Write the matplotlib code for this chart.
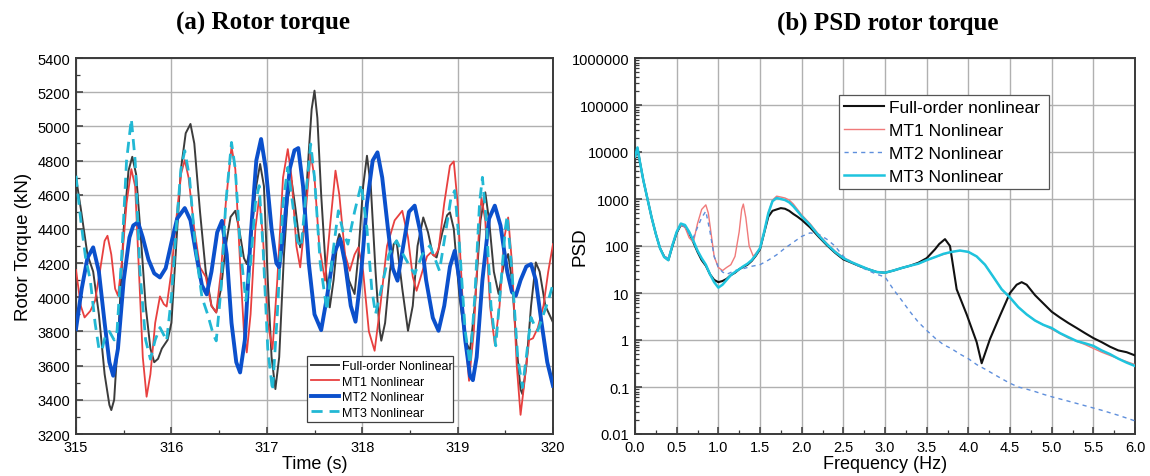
import matplotlib
matplotlib.use("Agg")
import matplotlib.pyplot as plt
from matplotlib.ticker import MultipleLocator, FixedLocator, FixedFormatter, LogLocator, NullFormatter, FormatStrFormatter

plt.rcParams['font.family'] = ['Liberation Sans', 'DejaVu Sans']

# ---------------- (a) Rotor torque: time series (s, kN) ----------------
t_full = [315.00, 315.05, 315.12, 315.18, 315.24, 315.30, 315.35, 315.37, 315.40, 315.45, 315.50, 315.55, 315.59, 315.63,
          315.68, 315.73, 315.78, 315.82, 315.86, 315.90, 315.96, 316.00, 316.05, 316.10, 316.15, 316.20, 316.24, 316.30,
          316.36, 316.42, 316.47, 316.52, 316.57, 316.62, 316.67, 316.71, 316.76, 316.79, 316.83, 316.88, 316.93, 316.97,
          317.01, 317.05, 317.09, 317.13, 317.18, 317.22, 317.26, 317.30, 317.35, 317.39, 317.44, 317.47, 317.50, 317.53,
          317.57, 317.62, 317.66, 317.70, 317.74, 317.76, 317.80, 317.86, 317.92, 317.96, 318.01, 318.05, 318.09, 318.14,
          318.18, 318.20, 318.24, 318.29, 318.33, 318.36, 318.42, 318.48, 318.53, 318.58, 318.64, 318.69, 318.74, 318.78,
          318.84, 318.89, 318.92, 318.96, 319.02, 319.08, 319.13, 319.18, 319.24, 319.29, 319.33, 319.38, 319.43, 319.48,
          319.53, 319.57, 319.62, 319.66, 319.68, 319.72, 319.77, 319.82, 319.86, 319.92, 320.00]
v_full = [4700, 4520, 4250, 4150, 3900, 3550, 3370, 3340, 3400, 3850, 4400, 4740, 4822, 4720,
          4350, 3950, 3700, 3620, 3640, 3700, 3750, 3850, 4300, 4750, 4960, 5014, 4900, 4500,
          4150, 3950, 3911, 4050, 4300, 4470, 4506, 4400, 4230, 4194, 4300, 4620, 4780, 4650,
          4100, 3650, 3463, 3650, 4250, 4580, 4682, 4520, 4292, 4400, 4850, 5100, 5209, 5050,
          4600, 4150, 3941, 4100, 4330, 4370, 4300, 4100, 4019, 4250, 4650, 4828, 4650, 4150,
          3820, 3746, 3850, 4150, 4311, 4330, 4050, 3804, 3950, 4300, 4467, 4380, 4250, 4233,
          4380, 4480, 4497, 4400, 4000, 3750, 3687, 3950, 4450, 4614, 4450, 4150, 4019, 4180,
          4253, 4100, 3700, 3460, 3433, 3600, 3950, 4204, 4150, 3950, 3853]

t_mt1 = [315.00, 315.05, 315.09, 315.15, 315.20, 315.25, 315.30, 315.33, 315.37, 315.41, 315.44, 315.48, 315.53, 315.58,
         315.62, 315.66, 315.70, 315.74, 315.78, 315.83, 315.88, 315.92, 315.95, 316.00, 316.05, 316.10, 316.14, 316.18,
         316.24, 316.30, 316.36, 316.42, 316.47, 316.52, 316.57, 316.63, 316.67, 316.72, 316.76, 316.79, 316.83, 316.88,
         316.92, 316.96, 317.01, 317.06, 317.11, 317.17, 317.22, 317.26, 317.31, 317.35, 317.40, 317.46, 317.50, 317.55,
         317.61, 317.66, 317.72, 317.76, 317.82, 317.87, 317.92, 317.96, 318.01, 318.07, 318.13, 318.19, 318.26, 318.34,
         318.42, 318.48, 318.53, 318.57, 318.63, 318.68, 318.72, 318.76, 318.80, 318.86, 318.92, 318.96, 319.00, 319.06,
         319.12, 319.17, 319.22, 319.25, 319.29, 319.34, 319.39, 319.44, 319.49, 319.53, 319.57, 319.62, 319.66, 319.70,
         319.75, 319.79, 319.84, 319.90, 319.95, 320.00]
v_mt1 = [4160, 3950, 3882, 3920, 3980, 4150, 4330, 4360, 4250, 4050, 4009, 4200, 4550, 4750,
         4650, 4150, 3650, 3418, 3550, 3850, 4005, 3960, 3946, 4150, 4450, 4720, 4803, 4700,
         4400, 4175, 4120, 3950, 3911, 4150, 4550, 4881, 4750, 4200, 3800, 3677, 3900, 4400,
         4584, 4350, 3850, 3697, 4100, 4700, 4867, 4700, 4300, 4175, 4450, 4838, 4700, 4300,
         4097, 4400, 4741, 4600, 4250, 4155, 4250, 4292, 4150, 3800, 3687, 3950, 4300, 4450,
         4506, 4350, 4120, 4038, 4150, 4240, 4262, 4240, 4280, 4550, 4770, 4795, 4550, 3900,
         3511, 3800, 4350, 4584, 4450, 3950, 3726, 3950, 4350, 4467, 4200, 3600, 3312, 3500,
         3750, 3760, 3820, 3950, 4150, 4311]

t_mt2 = [315.00, 315.06, 315.12, 315.18, 315.24, 315.30, 315.35, 315.39, 315.44, 315.50, 315.56, 315.60, 315.65, 315.70,
         315.76, 315.82, 315.88, 315.94, 316.00, 316.06, 316.14, 316.20, 316.26, 316.32, 316.37, 316.42, 316.48, 316.53,
         316.58, 316.63, 316.68, 316.72, 316.77, 316.83, 316.89, 316.94, 316.99, 317.05, 317.10, 317.13, 317.18, 317.24,
         317.29, 317.33, 317.38, 317.44, 317.50, 317.57, 317.63, 317.70, 317.77, 317.82, 317.88, 317.93, 317.99, 318.05,
         318.11, 318.16, 318.21, 318.27, 318.32, 318.37, 318.43, 318.49, 318.55, 318.61, 318.67, 318.74, 318.80, 318.86,
         318.92, 318.97, 319.02, 319.08, 319.13, 319.16, 319.20, 319.26, 319.33, 319.39, 319.45, 319.52, 319.57, 319.61,
         319.66, 319.72, 319.77, 319.82, 319.88, 319.94, 320.00]
v_mt2 = [3814, 4050, 4230, 4292, 4150, 3850, 3620, 3541, 3700, 4100, 4350, 4420, 4439, 4350,
         4220, 4140, 4116, 4170, 4320, 4460, 4522, 4450, 4250, 4070, 4017, 4150, 4380, 4447,
         4250, 3850, 3620, 3560, 3750, 4350, 4800, 4926, 4750, 4400, 4200, 4175, 4400, 4750,
         4860, 4873, 4650, 4200, 3900, 3808, 4000, 4250, 4341, 4200, 3950, 3857, 4150, 4550,
         4800, 4848, 4700, 4400, 4170, 4097, 4300, 4500, 4536, 4380, 4100, 3880, 3804, 3950,
         4180, 4272, 4100, 3750, 3540, 3515, 3650, 4100, 4460, 4536, 4420, 4150, 4030, 4009,
         4100, 4180, 4194, 4100, 3850, 3620, 3482]

t_mt3 = [315.00, 315.05, 315.10, 315.15, 315.20, 315.24, 315.27, 315.31, 315.35, 315.40, 315.43, 315.48, 315.53, 315.58,
         315.62, 315.67, 315.73, 315.78, 315.83, 315.88, 315.92, 315.95, 316.00, 316.05, 316.10, 316.14, 316.19, 316.25,
         316.32, 316.38, 316.44, 316.47, 316.52, 316.57, 316.63, 316.67, 316.72, 316.78, 316.83, 316.88, 316.92, 316.96,
         317.01, 317.06, 317.11, 317.17, 317.22, 317.27, 317.32, 317.36, 317.41, 317.46, 317.50, 317.56, 317.63, 317.69,
         317.75, 317.80, 317.85, 317.92, 317.99, 318.05, 318.10, 318.14, 318.20, 318.28, 318.36, 318.43, 318.50, 318.55,
         318.63, 318.71, 318.76, 318.81, 318.88, 318.93, 318.97, 319.02, 319.08, 319.13, 319.18, 319.23, 319.26, 319.30,
         319.35, 319.40, 319.45, 319.50, 319.52, 319.57, 319.63, 319.68, 319.72, 319.77, 319.81, 319.84, 319.90, 319.95,
         320.00]
v_mt3 = [4711, 4450, 4233, 4100, 3850, 3700, 3687, 3780, 3800, 3750, 3800, 4250, 4800, 5043,
         4800, 4150, 3750, 3638, 3750, 3823, 3780, 3745, 4000, 4400, 4750, 4858, 4700, 4300,
         4000, 3900, 3780, 3745, 4050, 4550, 4906, 4750, 4300, 3980, 4200, 4550, 4653, 4300,
         3700, 3453, 3900, 4550, 4760, 4550, 4330, 4292, 4600, 4897, 4700, 4200, 3921, 4250,
         4506, 4380, 4311, 4500, 4662, 4400, 4050, 3902, 4050, 4250, 4331, 4250, 4180, 4136,
         4250, 4302, 4230, 4155, 4400, 4580, 4624, 4300, 3800, 3609, 4000, 4550, 4702, 4450,
         3950, 3716, 4050, 4400, 4477, 4150, 3650, 3472, 3650, 3882, 3830, 3804, 3900, 3980,
         4077]

# ---------------- (b) PSD rotor torque (Hz, PSD) ----------------
f_full = [0.00, 0.03, 0.06, 0.10, 0.15, 0.20, 0.25, 0.30, 0.35, 0.40, 0.45, 0.50, 0.55, 0.60, 0.65, 0.70, 0.75, 0.80,
          0.85, 0.90, 0.95, 1.00, 1.05, 1.10, 1.15, 1.20, 1.25, 1.30, 1.35, 1.40, 1.45, 1.50, 1.55, 1.60, 1.65, 1.70,
          1.75, 1.80, 1.85, 1.90, 1.95, 2.00, 2.10, 2.20, 2.30, 2.40, 2.50, 2.60, 2.70, 2.80, 2.90, 3.00, 3.10, 3.20,
          3.30, 3.40, 3.50, 3.60, 3.65, 3.72, 3.78, 3.86, 3.98, 4.10, 4.16, 4.26, 4.38, 4.50, 4.58, 4.64, 4.70, 4.80,
          4.90, 5.00, 5.10, 5.20, 5.30, 5.40, 5.50, 5.60, 5.70, 5.80, 5.90, 6.00]
p_full = [8000, 12000, 6000, 2500, 1000, 400, 180, 90, 60, 50, 100, 190, 280, 260, 190, 120, 75, 50,
          38, 25, 19, 17, 18, 20, 24, 27, 32, 36, 40, 48, 62, 85, 190, 420, 560, 600,
          640, 620, 560, 480, 420, 360, 250, 160, 105, 72, 52, 44, 37, 32, 28, 27, 30, 34,
          38, 44, 55, 85, 110, 140, 100, 12, 3.5, 0.9, 0.32, 1.05, 3.3, 10, 15, 17, 15, 9,
          6, 4, 3, 2.3, 1.8, 1.4, 1.1, 0.9, 0.72, 0.6, 0.55, 0.47]

f_mt1 = [0.00, 0.03, 0.06, 0.10, 0.15, 0.20, 0.25, 0.30, 0.35, 0.40, 0.45, 0.50, 0.55, 0.60, 0.65, 0.70, 0.75, 0.80,
         0.85, 0.88, 0.92, 0.95, 1.00, 1.05, 1.10, 1.15, 1.20, 1.25, 1.28, 1.30, 1.33, 1.37, 1.42, 1.50, 1.55, 1.60,
         1.65, 1.70, 1.75, 1.80, 1.85, 1.90, 1.95, 2.00, 2.10, 2.20, 2.30, 2.40, 2.50, 2.60, 2.70, 2.80, 2.90, 3.00,
         3.20, 3.40, 3.60, 3.80, 3.90, 4.00, 4.10, 4.20, 4.30, 4.40, 4.50, 4.60, 4.70, 4.80, 4.90, 5.00, 5.20, 5.40,
         5.60, 5.80, 6.00]
p_mt1 = [8000, 12000, 6000, 2500, 1000, 400, 180, 90, 60, 55, 110, 200, 280, 250, 150, 120, 300, 600,
         750, 500, 150, 60, 35, 30, 35, 40, 60, 200, 600, 780, 400, 100, 60, 90, 200, 500,
         950, 1150, 1100, 1050, 950, 780, 600, 460, 300, 180, 115, 78, 57, 46, 38, 32, 28, 27,
         34, 42, 58, 75, 80, 75, 60, 40, 22, 12, 8, 5, 3.5, 2.6, 2.1, 1.7, 1.1, 0.8,
         0.55, 0.4, 0.3]

f_mt2 = [0.00, 0.03, 0.06, 0.10, 0.15, 0.20, 0.25, 0.30, 0.35, 0.40, 0.45, 0.50, 0.55, 0.60, 0.65, 0.70, 0.75, 0.80,
         0.85, 0.90, 0.95, 1.00, 1.05, 1.10, 1.20, 1.30, 1.40, 1.50, 1.60, 1.70, 1.80, 1.90, 2.00, 2.10, 2.20, 2.30,
         2.40, 2.50, 2.60, 2.70, 2.80, 2.90, 3.00, 3.10, 3.20, 3.30, 3.40, 3.50, 3.60, 3.70, 3.80, 3.90, 4.00, 4.10,
         4.20, 4.30, 4.40, 4.50, 4.60, 4.70, 4.80, 4.90, 5.00, 5.20, 5.40, 5.60, 5.80, 6.00]
p_mt2 = [8000, 11000, 6000, 2500, 1000, 400, 180, 90, 60, 55, 110, 200, 280, 260, 180, 150, 250, 400,
         550, 200, 60, 35, 28, 25, 30, 33, 37, 40, 50, 65, 90, 120, 160, 190, 180, 140,
         100, 60, 45, 36, 30, 25, 22, 12, 7, 4, 2.4, 1.6, 1.1, 0.8, 0.65, 0.5, 0.4, 0.3,
         0.24, 0.19, 0.15, 0.12, 0.10, 0.09, 0.08, 0.07, 0.062, 0.05, 0.04, 0.032, 0.025, 0.019]

f_mt3 = [0.00, 0.03, 0.06, 0.10, 0.15, 0.20, 0.25, 0.30, 0.35, 0.40, 0.45, 0.50, 0.55, 0.60, 0.65, 0.70, 0.75, 0.80,
         0.85, 0.90, 0.95, 1.00, 1.05, 1.10, 1.15, 1.20, 1.25, 1.30, 1.35, 1.40, 1.45, 1.50, 1.55, 1.60, 1.65, 1.70,
         1.75, 1.80, 1.85, 1.90, 1.95, 2.00, 2.10, 2.20, 2.30, 2.40, 2.50, 2.60, 2.70, 2.80, 2.90, 3.00, 3.10, 3.20,
         3.30, 3.40, 3.50, 3.60, 3.70, 3.80, 3.90, 4.00, 4.10, 4.20, 4.30, 4.40, 4.50, 4.60, 4.70, 4.80, 4.90, 5.00,
         5.10, 5.20, 5.30, 5.40, 5.50, 5.60, 5.70, 5.80, 5.90, 6.00]
p_mt3 = [8000, 12500, 6000, 2500, 1000, 400, 180, 90, 58, 50, 105, 200, 300, 280, 200, 130, 80, 55,
         40, 25, 17, 13, 15, 19, 24, 28, 32, 37, 42, 50, 65, 90, 200, 500, 900, 1050,
         1000, 950, 850, 700, 550, 430, 280, 170, 110, 75, 55, 45, 38, 32, 28, 27, 30, 34,
         38, 42, 50, 58, 68, 75, 80, 75, 60, 40, 22, 12, 8, 5, 3.5, 2.6, 2.1, 1.8,
         1.4, 1.15, 0.95, 0.85, 0.75, 0.6, 0.5, 0.4, 0.33, 0.28]

legend_a = ['Full-order Nonlinear', 'MT1 Nonlinear', 'MT2 Nonlinear', 'MT3 Nonlinear']
legend_b = ['Full-order nonlinear', 'MT1 Nonlinear', 'MT2 Nonlinear', 'MT3 Nonlinear']
psd_ticks = [0.01, 0.1, 1, 10, 100, 1000, 10000, 100000, 1000000]
psd_tick_labels = ['0.01', '0.1', '1', '10', '100', '1000', '10000', '100000', '1000000']

# ---------------- figure ----------------
fig = plt.figure(figsize=(11.5, 4.77), dpi=100)
W, H = 1150, 477
axA = fig.add_axes([76 / W, 1 - 435 / H, 477 / W, 376 / H])
axB = fig.add_axes([635 / W, 1 - 435 / H, 500 / W, 376 / H])

frame_col = '#3a3a3a'
grid_col = '#b0b0b0'

# (a)
axA.plot(t_full, v_full, color='#3c3c3c', lw=1.4, label=legend_a[0], zorder=3)
axA.plot(t_mt1, v_mt1, color='#e8403f', lw=1.3, label=legend_a[1], zorder=4)
axA.plot(t_mt2, v_mt2, color='#0b50cc', lw=2.8, label=legend_a[2], zorder=5)
axA.plot(t_mt3, v_mt3, color='#22b8d4', lw=2.0, dashes=(4, 2.5), label=legend_a[3], zorder=6)
axA.set_xlim(315, 320)
axA.set_ylim(3200, 5400)
axA.xaxis.set_major_locator(MultipleLocator(1))
axA.xaxis.set_minor_locator(MultipleLocator(0.5))
axA.yaxis.set_major_locator(MultipleLocator(200))
axA.yaxis.set_minor_locator(MultipleLocator(100))
axA.xaxis.set_major_formatter(FormatStrFormatter('%d'))
axA.grid(True, which='major', color=grid_col, lw=1.0)
axA.set_axisbelow(True)
axA.set_xlabel('Time (s)', fontsize=13, labelpad=1)
axA.set_ylabel('Rotor Torque (kN)', fontsize=13.5, labelpad=4)
leg = axA.legend(loc='lower left', bbox_to_anchor=(0.484, 0.031, 0.307, 0.167), mode='expand',
                 fontsize=9, handlelength=2.3, handletextpad=0.2, borderpad=0.3, labelspacing=0.28,
                 borderaxespad=0, fancybox=False, framealpha=1, edgecolor='#404040')
leg.get_frame().set_linewidth(0.9)

# (b)
axB.plot(f_full, p_full, color='#111111', lw=1.5, label=legend_b[0], zorder=3)
axB.plot(f_mt1, p_mt1, color='#f07a7a', lw=1.0, label=legend_b[1], zorder=4)
axB.plot(f_mt2, p_mt2, color='#5f8fdc', lw=1.0, dashes=(3, 3), label=legend_b[2], zorder=5)
axB.plot(f_mt3, p_mt3, color='#1ec4de', lw=1.8, label=legend_b[3], zorder=6)
axB.set_yscale('log')
axB.set_xlim(0, 6)
axB.set_ylim(0.01, 1000000)
axB.xaxis.set_major_locator(MultipleLocator(0.5))
axB.xaxis.set_minor_locator(MultipleLocator(0.25))
axB.xaxis.set_major_formatter(FormatStrFormatter('%.1f'))
axB.yaxis.set_major_locator(FixedLocator(psd_ticks))
axB.yaxis.set_major_formatter(FixedFormatter(psd_tick_labels))
axB.yaxis.set_minor_locator(LogLocator(base=10, subs=range(2, 10), numticks=20))
axB.yaxis.set_minor_formatter(NullFormatter())
axB.grid(True, which='major', color=grid_col, lw=1.0)
axB.set_axisbelow(True)
axB.set_xlabel('Frequency (Hz)', fontsize=13, labelpad=1)
axB.set_ylabel('PSD', fontsize=13.5)
axB.yaxis.set_label_coords(-0.094, 0.5)
legB = axB.legend(loc='upper left', bbox_to_anchor=(0.408, 0.658, 0.42, 0.244), mode='expand',
                  fontsize=12.5, handlelength=2.3, handletextpad=0.3, borderpad=0.3, labelspacing=0.45,
                  borderaxespad=0, fancybox=False, framealpha=1, edgecolor='#555555')
legB.get_frame().set_linewidth(0.9)

for ax in (axA, axB):
    for s in ax.spines.values():
        s.set_color(frame_col)
        s.set_linewidth(1.4)
    ax.tick_params(which='both', direction='in', top=False, right=False, labelsize=10.5,
                   color=frame_col, pad=4)
    ax.tick_params(which='major', length=5, width=1.1)
    ax.tick_params(which='minor', length=3, width=0.9)

fig.text(263 / W, 1 - 23 / H, '(a) Rotor torque', ha='center', va='center',
         fontsize=18, fontweight='bold', family=['Liberation Serif', 'DejaVu Serif'])
fig.text(888 / W, 1 - 23 / H, '(b) PSD rotor torque', ha='center', va='center',
         fontsize=18, fontweight='bold', family=['Liberation Serif', 'DejaVu Serif'])

fig.savefig('out.png', dpi=100)
